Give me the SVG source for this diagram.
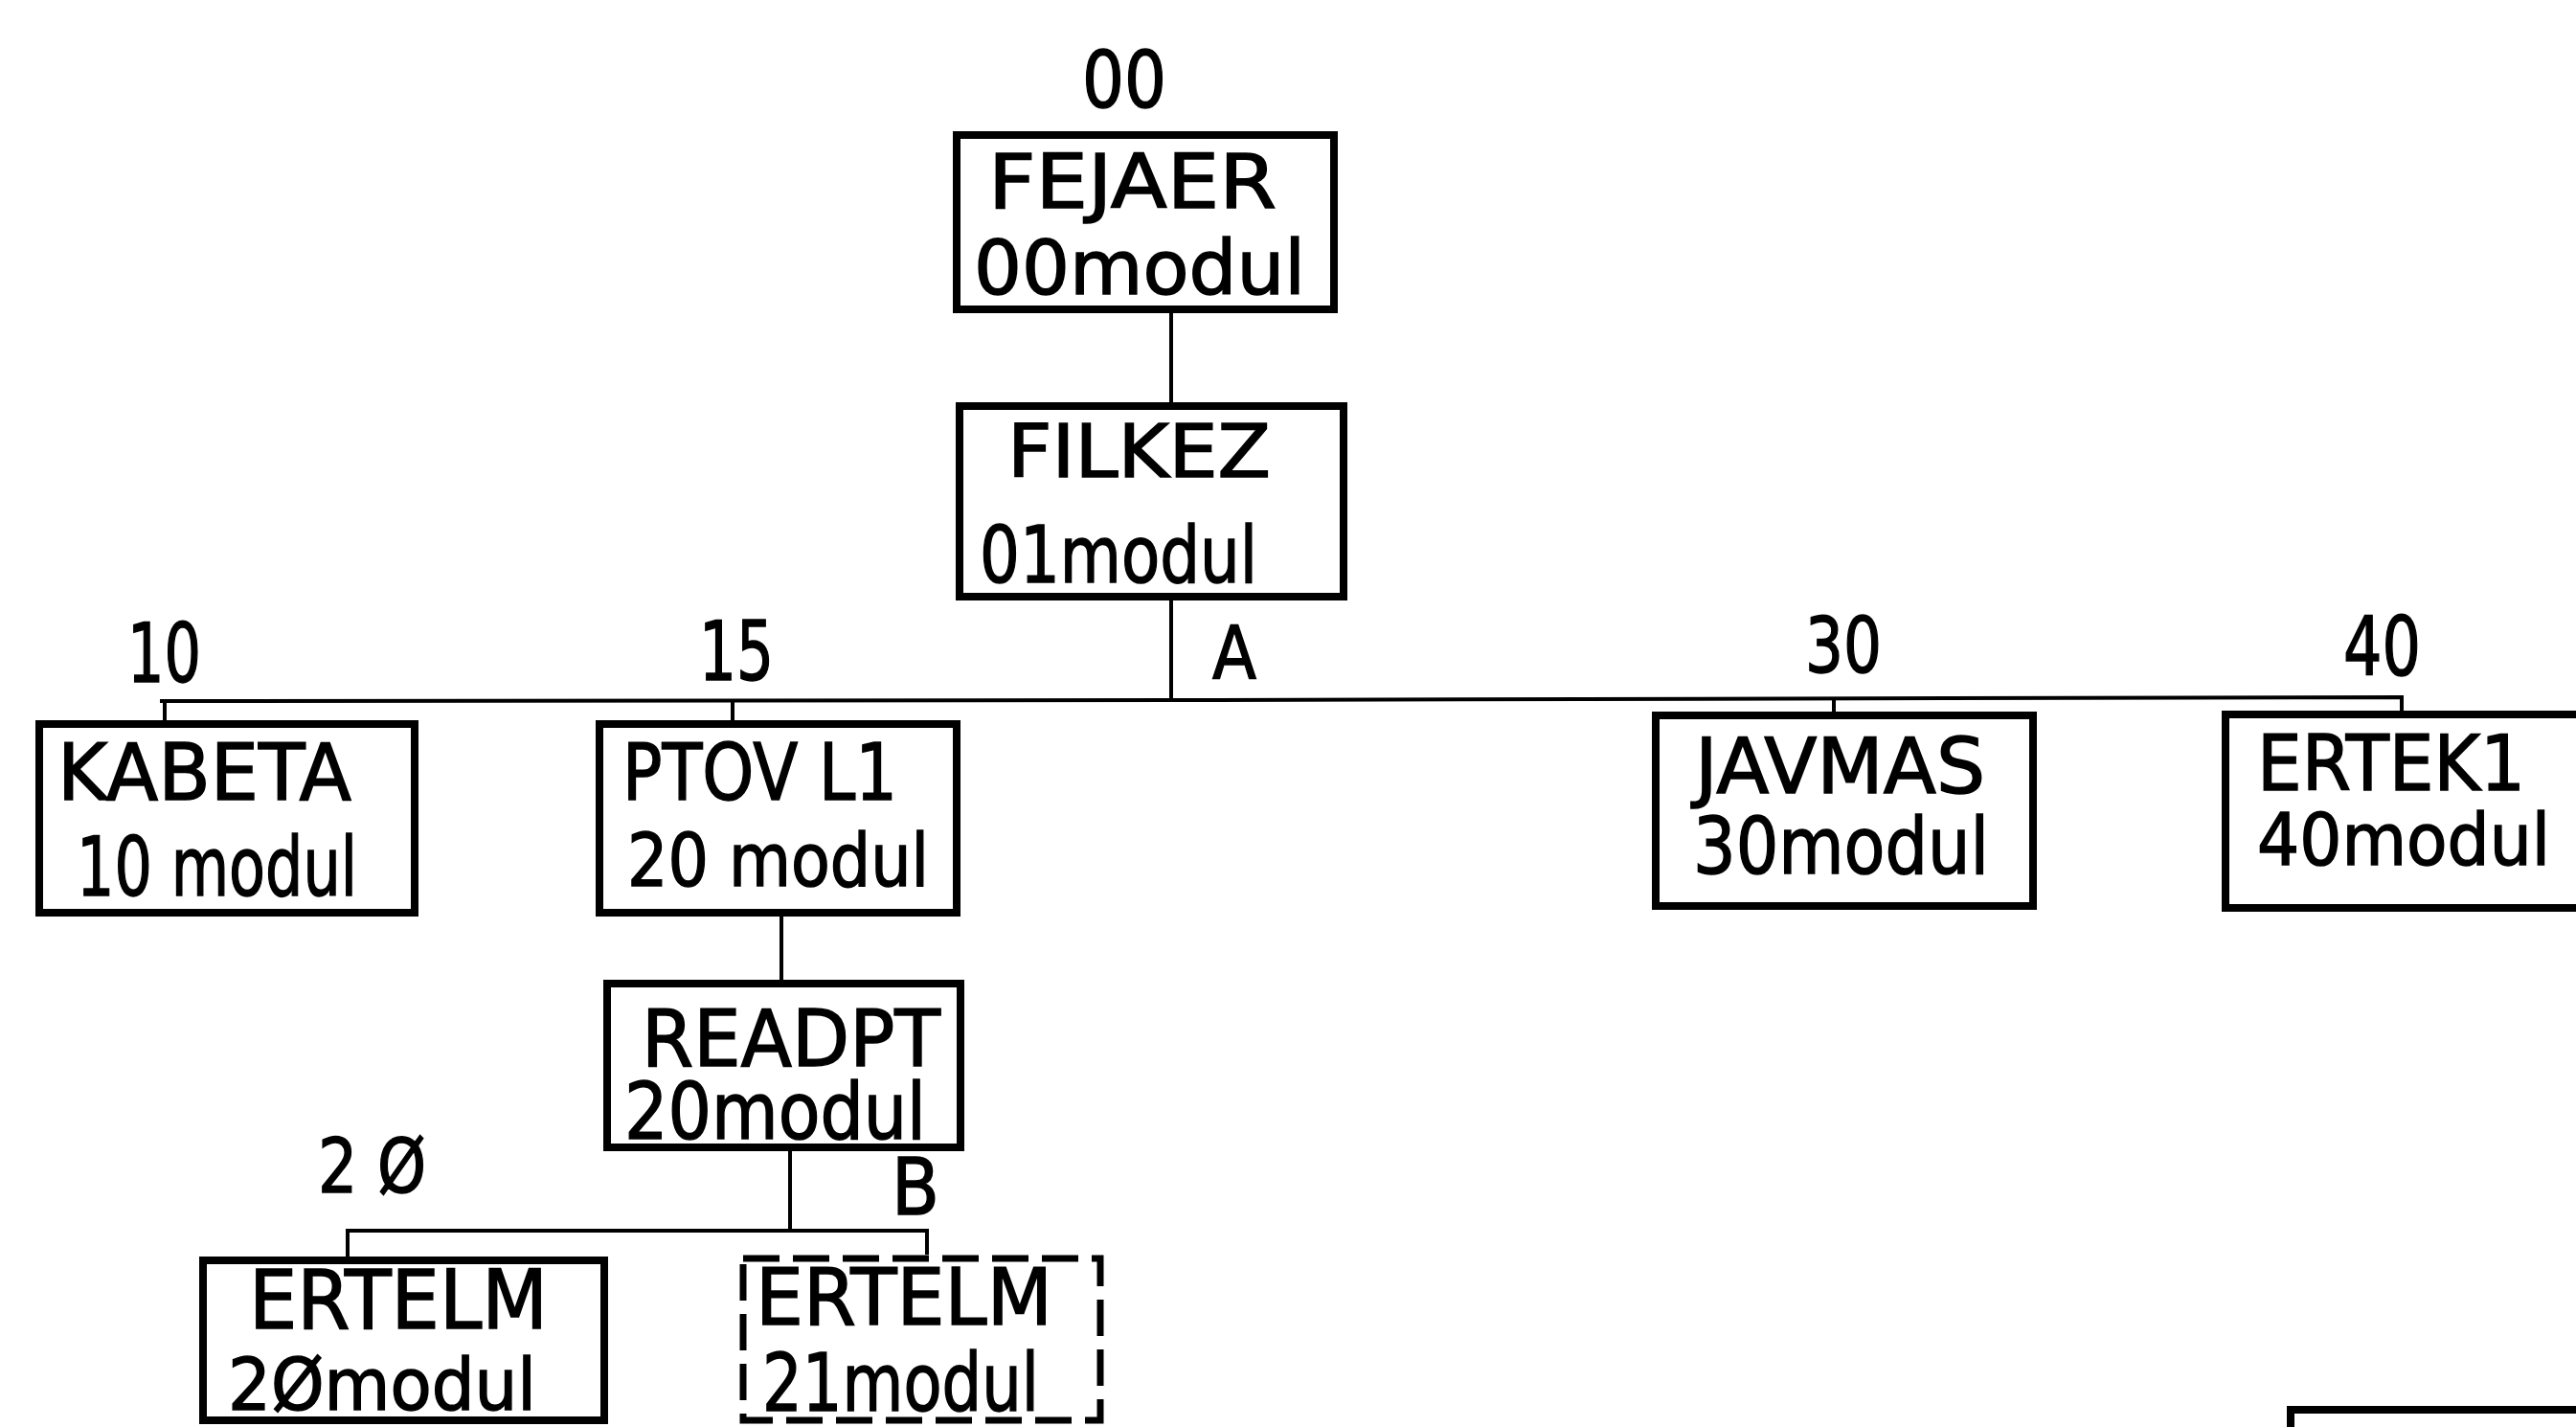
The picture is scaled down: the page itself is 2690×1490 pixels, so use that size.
<svg xmlns="http://www.w3.org/2000/svg" width="2690" height="1490" viewBox="0 0 2690 1490">
<style>
.box{fill:none;stroke:#000;stroke-width:8}
.dash{fill:none;stroke:#000;stroke-width:7;stroke-dasharray:38 14}
.ln{fill:none;stroke:#000;stroke-width:4}
text{font-family:"DejaVu Sans","Liberation Sans",sans-serif;fill:#000;stroke:#000;stroke-width:1.5}
</style>
<rect width="2690" height="1490" fill="#fff"/>
<g id="connectors">
<line class="ln" x1="1223" y1="327" x2="1223" y2="420"/>
<line class="ln" x1="1223" y1="627" x2="1223" y2="732"/>
<polyline class="ln" points="167,732 1223,731 2508,728 2508,742"/>
<line class="ln" x1="172" y1="732" x2="172" y2="752"/>
<line class="ln" x1="765" y1="732" x2="765" y2="752"/>
<line class="ln" x1="1915" y1="729" x2="1915" y2="743"/>
<line class="ln" x1="816" y1="957" x2="816" y2="1023"/>
<line class="ln" x1="825" y1="1202" x2="825" y2="1285"/>
<polyline class="ln" points="363,1312 363,1285 968,1285 968,1310"/>
</g>
<g id="labels">
<text x="1130" y="112" font-size="82" textLength="88" lengthAdjust="spacingAndGlyphs">00</text>
<text x="1266" y="708" font-size="77" textLength="46" lengthAdjust="spacingAndGlyphs">A</text>
<text x="133" y="712" font-size="85" textLength="77" lengthAdjust="spacingAndGlyphs">10</text>
<text x="730" y="710" font-size="85" textLength="78" lengthAdjust="spacingAndGlyphs">15</text>
<text x="1885" y="702" font-size="81" textLength="80" lengthAdjust="spacingAndGlyphs">30</text>
<text x="2447" y="705" font-size="86" textLength="81" lengthAdjust="spacingAndGlyphs">40</text>
<text x="931" y="1268" font-size="82" textLength="50" lengthAdjust="spacingAndGlyphs">B</text>
<text x="332" y="1245" font-size="78" textLength="113" lengthAdjust="spacingAndGlyphs">2 Ø</text>
</g>
<g id="FEJAER">
<rect class="box" x="999" y="141" width="394" height="182"/>
<text x="1032" y="217" font-size="78" textLength="301" lengthAdjust="spacingAndGlyphs">FEJAER</text>
<text x="1017" y="307" font-size="78" textLength="346" lengthAdjust="spacingAndGlyphs">00modul</text>
</g>
<g id="FILKEZ">
<rect class="box" x="1002" y="424" width="401" height="199"/>
<text x="1052" y="498" font-size="77" textLength="275" lengthAdjust="spacingAndGlyphs">FILKEZ</text>
<text x="1023" y="608" font-size="82" textLength="290" lengthAdjust="spacingAndGlyphs">01modul</text>
</g>
<g id="KABETA">
<rect class="box" x="41" y="756" width="392" height="197"/>
<text x="60" y="835" font-size="82" textLength="307" lengthAdjust="spacingAndGlyphs">KABETA</text>
<text x="80" y="935" font-size="85" textLength="293" lengthAdjust="spacingAndGlyphs">10 modul</text>
</g>
<g id="PTOVL1">
<rect class="box" x="626" y="756" width="373" height="197"/>
<text x="650" y="835" font-size="82" textLength="287" lengthAdjust="spacingAndGlyphs">PTOV L1</text>
<text x="655" y="925" font-size="76" textLength="315" lengthAdjust="spacingAndGlyphs">20 modul</text>
</g>
<g id="JAVMAS">
<rect class="box" x="1729" y="747" width="394" height="199"/>
<text x="1770" y="828" font-size="80" textLength="303" lengthAdjust="spacingAndGlyphs">JAVMAS</text>
<text x="1768" y="912" font-size="82" textLength="309" lengthAdjust="spacingAndGlyphs">30modul</text>
</g>
<g id="ERTEK1">
<rect class="box" x="2324" y="746" width="400" height="202"/>
<text x="2357" y="825" font-size="80" textLength="280" lengthAdjust="spacingAndGlyphs">ERTEK1</text>
<text x="2357" y="903" font-size="74" textLength="306" lengthAdjust="spacingAndGlyphs">40modul</text>
</g>
<g id="READPT">
<rect class="box" x="634" y="1027" width="369" height="171"/>
<text x="670" y="1113" font-size="82" textLength="312" lengthAdjust="spacingAndGlyphs">READPT</text>
<text x="652" y="1189" font-size="82" textLength="315" lengthAdjust="spacingAndGlyphs">20modul</text>
</g>
<g id="ERTELM20">
<rect class="box" x="212" y="1316" width="419" height="167"/>
<text x="260" y="1387" font-size="85" textLength="312" lengthAdjust="spacingAndGlyphs">ERTELM</text>
<text x="238" y="1472" font-size="75" textLength="322" lengthAdjust="spacingAndGlyphs">2Ømodul</text>
</g>
<g id="ERTELM21">
<rect class="dash" x="776" y="1314" width="373" height="169"/>
<text x="789" y="1383" font-size="82" textLength="310" lengthAdjust="spacingAndGlyphs">ERTELM</text>
<text x="796" y="1473" font-size="83" textLength="289" lengthAdjust="spacingAndGlyphs">21modul</text>
</g>
<g id="partial">
<rect class="box" x="2392" y="1472" width="310" height="100"/>
</g>
</svg>
